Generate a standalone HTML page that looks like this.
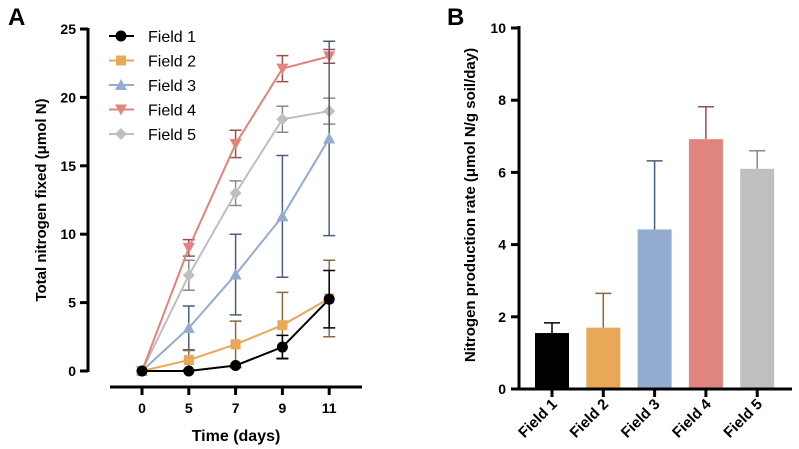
<!DOCTYPE html>
<html><head><meta charset="utf-8"><style>
body{margin:0;background:#fff}
svg{display:block;font-family:"Liberation Sans",Arial,sans-serif}
</style></head><body>
<svg id="chart" width="799" height="449" xmlns="http://www.w3.org/2000/svg"></svg>
<script>
const days=["0","5","7","9","11"];
const seriesNames=["Field 1","Field 2","Field 3","Field 4","Field 5"];
const f1=[0,0,0.4,1.75,5.25];
const f2=[0,0.8,1.95,3.35,5.3];
const f3=[0,3.15,7.05,11.3,17.0];
const f4=[0,9,16.6,22.1,23.0];
const f5=[0,7,13,18.4,19];
const e1=[0,0,0,0.85,2.1];
const e2=[0,0.7,1.7,2.4,2.8];
const e3=[0,1.6,2.95,4.45,7.1];
const e4=[0,0.6,1.0,0.95,0.5];
const e5=[0,1.1,0.9,0.95,0.95];
const aTicks=[0,5,10,15,20,25];
const fields=["Field 1","Field 2","Field 3","Field 4","Field 5"];
const rates=[1.55,1.7,4.42,6.92,6.1];
const rateErr=[0.28,0.95,1.9,0.9,0.5];
const bTicks=[0,2,4,6,8,10];

const NS="http://www.w3.org/2000/svg";
const svg=document.getElementById('chart');
function mk(tag,attrs,parent,text){const e=document.createElementNS(NS,tag);for(const k in attrs)e.setAttribute(k,attrs[k]);if(text!==undefined)e.textContent=text;(parent||svg).appendChild(e);return e;}

const colors=["#000000","#e8a857","#93acd0","#e0847e","#bfbfbf"];
const errCol=["#000000","#8a6a3a","#4a5f80","#9a4f4b","#8a8a8a"];
const vals=[f1,f2,f3,f4,f5], errs=[e1,e2,e3,e4,e5];

// Panel A
const ya=v=>371-v*13.68;
const xa=i=>142+i*46.8;
const gA=mk('g',{});

let t=mk('text',{x:8,y:25,'font-size':24,'font-weight':'bold'},gA,'A');

let l=mk('line',{x1:88,y1:28,x2:88,y2:372,stroke:'#000','stroke-width':3},gA);

aTicks.forEach(v=>{
 const tk=mk('line',{x1:80,x2:88,y1:ya(v),y2:ya(v),stroke:'#000','stroke-width':3},gA);
 
 const tl=mk('text',{x:76,y:ya(v)+5,'text-anchor':'end','font-size':14,'font-weight':'bold'},gA,String(v));
 
});
l=mk('line',{x1:110,y1:387,x2:362,y2:387,stroke:'#000','stroke-width':3},gA);

days.forEach((d,i)=>{
 const tk=mk('line',{x1:xa(i),x2:xa(i),y1:387,y2:395,stroke:'#000','stroke-width':3},gA);
 
 const tl=mk('text',{x:xa(i),y:413,'text-anchor':'middle','font-size':14,'font-weight':'bold'},gA,d);
 
});
t=mk('text',{x:236,y:441,'text-anchor':'middle','font-size':16,'font-weight':'bold'},gA,'Time (days)');

t=mk('text',{transform:'translate(46,200) rotate(-90)','text-anchor':'middle','font-size':15,'font-weight':'bold'},gA,'Total nitrogen fixed (μmol N)');


function marker(k,x,y,g){
 const c=colors[k];let m;
 if(k===0)m=mk('circle',{cx:x,cy:y,r:5.5,fill:c},g);
 else if(k===1)m=mk('rect',{x:x-5,y:y-5,width:10,height:10,fill:c},g);
 else if(k===2)m=mk('polygon',{points:`${x},${y-6} ${x-6},${y+5} ${x+6},${y+5}`,fill:c},g);
 else if(k===3)m=mk('polygon',{points:`${x},${y+6} ${x-6},${y-5} ${x+6},${y-5}`,fill:c},g);
 else m=mk('polygon',{points:`${x},${y-6} ${x+6},${y} ${x},${y+6} ${x-6},${y}`,fill:c},g);
 return m;
}
[4,3,2,1,0].forEach(k=>{
 const g=mk('g',{},gA);
 
 vals[k].forEach((v,i)=>{
  const e=errs[k][i]; if(e<=0)return;
  const eb=mk('path',{d:`M${xa(i)},${ya(v-e)}V${ya(v+e)}M${xa(i)-6},${ya(v-e)}h12M${xa(i)-6},${ya(v+e)}h12`,stroke:errCol[k],'stroke-width':1.5,fill:'none'},g);
  
 });
 const ln=mk('polyline',{points:vals[k].map((v,i)=>xa(i)+','+ya(v)).join(' '),stroke:colors[k],'stroke-width':2,fill:'none'},g);
 
 vals[k].forEach((v,i)=>{const m=marker(k,xa(i),ya(v),g);
  });
});
seriesNames.forEach((n,k)=>{
 const y=36+k*24.5;
 const g=mk('g',{},gA);
 
 mk('line',{x1:109,x2:134,y1:y,y2:y,stroke:colors[k],'stroke-width':2},g);
 marker(k,121,y,g);
 mk('text',{x:148,y:y+6,'font-size':16},g,n);
});

// Panel B
const yb=v=>389-v*36.1;
const xb=i=>552+i*51.3;
const gB=mk('g',{});

t=mk('text',{x:447,y:25,'font-size':24,'font-weight':'bold'},gB,'B');

rates.forEach((v,i)=>{
 const e=rateErr[i];
 const eb=mk('path',{d:`M${xb(i)},${yb(v)}V${yb(v+e)}M${xb(i)-8},${yb(v+e)}h16`,stroke:errCol[i],'stroke-width':1.5,fill:'none'},gB);
 
 const r=mk('rect',{x:xb(i)-17,y:yb(v),width:34,height:yb(0)-yb(v),fill:colors[i]},gB);
 
});
l=mk('line',{x1:519,y1:26,x2:519,y2:390,stroke:'#000','stroke-width':3},gB);

l=mk('line',{x1:518,y1:389,x2:792,y2:389,stroke:'#000','stroke-width':3},gB);

bTicks.forEach(v=>{
 const tk=mk('line',{x1:511,x2:519,y1:yb(v),y2:yb(v),stroke:'#000','stroke-width':3},gB);
 
 const tl=mk('text',{x:506,y:yb(v)+5,'text-anchor':'end','font-size':14,'font-weight':'bold'},gB,String(v));
 
});
fields.forEach((f,i)=>{
 const tk=mk('line',{x1:xb(i),x2:xb(i),y1:389,y2:397,stroke:'#000','stroke-width':3},gB);
 
 const tl=mk('text',{transform:`translate(${xb(i)+6},${405}) rotate(-45)`,'text-anchor':'end','font-size':15,'font-weight':'bold'},gB,f);
 
});
t=mk('text',{transform:'translate(475,205) rotate(-90)','text-anchor':'middle','font-size':15,'font-weight':'bold'},gB,'Nitrogen production rate (μmol N/g soil/day)');

</script>
</body></html>
